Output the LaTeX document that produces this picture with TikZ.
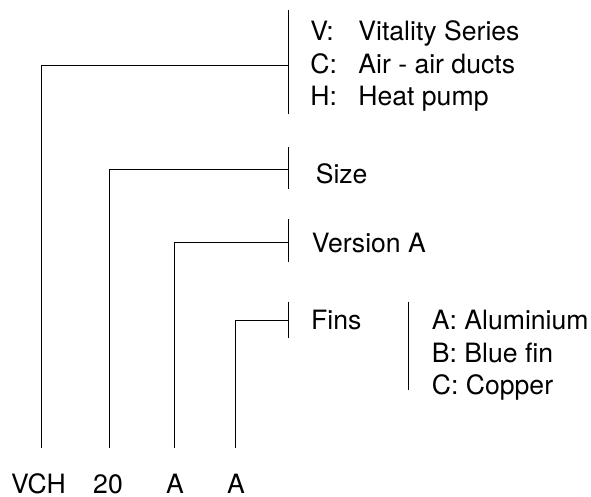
\documentclass[tikz,border=0pt]{standalone}
\usepackage{fontspec}
\setmainfont{TeX Gyre Heros}
\usetikzlibrary{positioning}

\begin{document}
\begin{tikzpicture}[
      x=0.5pt, y=-0.5pt,
      ln/.style={line width=0.5pt, black},
      txt/.style={anchor=base west, inner sep=0pt, font=\fontsize{13.3}{16}\selectfont},
      code/.style={anchor=base, inner sep=0pt, font=\fontsize{13.3}{16}\selectfont},
    ]
    \useasboundingbox (0,0) rectangle (591,497);
    % --- the code letters along the bottom ------------------------------
    \node[code] (vch) at (38.5,493.5) {VCH};
    \node[code] (siz) at (108,493.5) {20};
    \node[code] (ver) at (175,493.5) {A};
    \node[code] (fin) at (236,493.5) {A};
    % --- foot of each leader, above its code ----------------------------
    \coordinate (p1) at (41.7,448.3);
    \coordinate (p2) at (109.3,448.3);
    \coordinate (p3) at (175,448.3);
    \coordinate (p4) at (236,448.3);
    % --- the short bars the leaders run into -----------------------------
    \coordinate (b1t) at (288.7,10);    \coordinate (b1b) at (288.7,114);
    \coordinate (b2t) at (288.7,147);   \coordinate (b2b) at (288.7,189.3);
    \coordinate (b3t) at (288.7,219.3); \coordinate (b3b) at (288.7,261.7);
    \coordinate (b4t) at (288.7,301.7); \coordinate (b4b) at (288.7,338.3);
    \coordinate (b5t) at (408.3,301.7); \coordinate (b5b) at (408.3,390);
    \foreach \b in {1,...,5} {
      \draw[ln] (b\b t) -- (b\b b);
    }
    % --- where each leader meets its bar ---------------------------------
    \coordinate (b1) at (288.7,65.7);
    \coordinate (b2) at (288.7,169.3);
    \coordinate (b3) at (288.7,242.7);
    \coordinate (b4) at (288.7,321);
    % --- the leaders -----------------------------------------------------
    \draw[ln] (p1) |- (b1);
    \draw[ln] (p2) |- (b2);
    \draw[ln] (p3) |- (b3);
    \draw[ln] (p4) |- (b4);
    % --- series letters ---------------------------------------------------
    \foreach \k/\t [count=\i] in {V/Vitality Series, C/Air - air ducts, H/Heat pump} {
      \node[txt] (s\i) at (310,41+32.5*\i-32.5) {\makebox[24pt][l]{\k:}\t};
    }
    % --- the other labels -------------------------------------------------
    \node[txt] (sizl) at (315.4,183.5) {Size};
    \node[txt] (verl) at (311.5,252.5) {Version A};
    \node[txt] (finl) at (310.7,330) {Fins};
    \foreach \k/\t [count=\i] in {A/Aluminium, B/Blue fin, C/Copper} {
      \node[txt] (f\i) at (431.5,330+32.5*\i-32.5) {\k: \t};
    }
  \end{tikzpicture}
\end{document}
